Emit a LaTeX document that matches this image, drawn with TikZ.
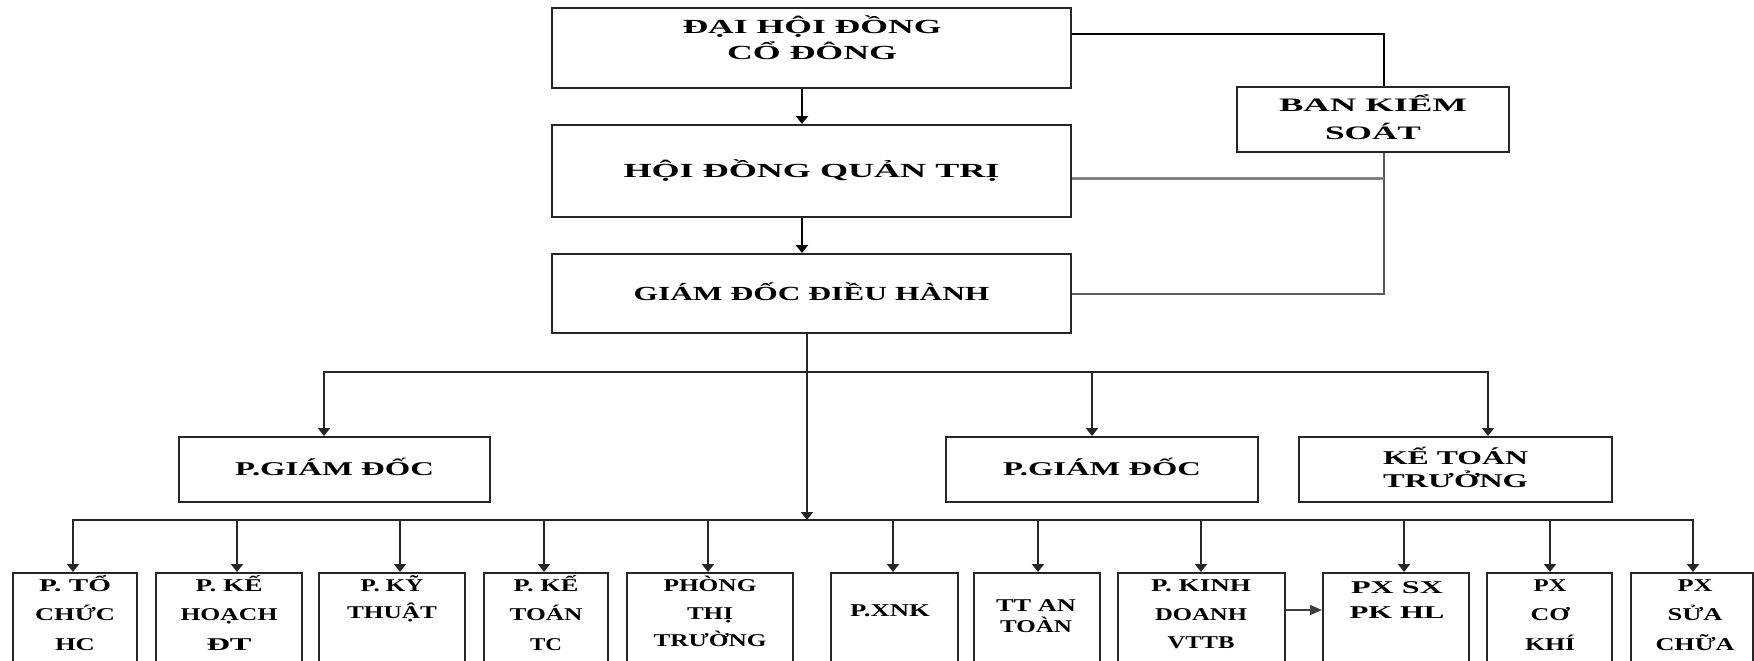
\documentclass[tikz,border=0pt]{standalone}
\usepackage{fontspec}
\setmainfont{Liberation Serif}
\usepackage{graphicx}
\usetikzlibrary{arrows.meta}
\newsavebox\fwbox
\newcommand\fitw[2]{%
  \sbox\fwbox{#2}%
  \edef\fwwd{\the\wd\fwbox}%
  \pgfmathsetmacro\fwx{#1/\fwwd}%
  \rule{0pt}{\fontcharht\font72}%
  \smash{\scalebox{\fwx}[1]{\usebox\fwbox}}}
\newcommand\ff[2]{\bfseries\fontsize{#1}{#2}\selectfont}
\tikzset{
  bx/.style={draw=black!85, line width=2pt, inner sep=0pt, rectangle},
  txt/.style={align=center, inner sep=0pt},
  ln/.style={line width=2.8pt, draw=black!85, line cap=rect},
  arr/.style={line width=2.8pt, draw=black!85, -{Triangle[width=12pt,length=8pt]}},
  rc/.style={line width=2pt, draw=black!65},
}
\begin{document}
\begin{tikzpicture}[x=1pt,y=-1pt]
\useasboundingbox (0,0) rectangle (1754,661);
\clip (0,0) rectangle (1754,661);
% top column
\node[bx, minimum width=519, minimum height=80] (dh) at (811.5,48) {};
\node[txt, font=\ff{20}{26}] (dht) at (812,40) {\fitw{259}{ĐẠI HỘI ĐỒNG}\\\fitw{170}{CỔ ĐÔNG}};
\node[bx, minimum width=519, minimum height=92, font=\ff{20}{26}] (hd) at (811.5,171) {\fitw{376}{HỘI ĐỒNG QUẢN TRỊ}};
\node[bx, minimum width=519, minimum height=79, font=\ff{20}{26}] (gd) at (811.5,293.5) {\fitw{356}{GIÁM ĐỐC ĐIỀU HÀNH}};
\node[bx, minimum width=272, minimum height=65, align=center, font=\ff{19}{28}] (bks) at (1373,119.5) {\fitw{188}{BAN KIỂM}\\\fitw{96}{SOÁT}};
% level 3
\node[bx, minimum width=311, minimum height=65, font=\ff{19.5}{23}] (pg1) at (334.5,469.5) {\fitw{199}{P.GIÁM ĐỐC}};
\node[bx, minimum width=312, minimum height=65, font=\ff{19.5}{23}] (pg2) at (1102,469.5) {\fitw{198}{P.GIÁM ĐỐC}};
\node[bx, minimum width=313, minimum height=65, align=center, font=\ff{19.5}{23}] (ktt) at (1455.5,469.5) {\fitw{145}{KẾ TOÁN}\\\fitw{145}{TRƯỞNG}};
% level 4 boxes
\node[bx, anchor=north, minimum width=124, minimum height=130] (b1) at (75,572) {};
\node[bx, anchor=north, minimum width=146, minimum height=130] (b2) at (229,572) {};
\node[bx, anchor=north, minimum width=146, minimum height=130] (b3) at (392,572) {};
\node[bx, anchor=north, minimum width=124, minimum height=130] (b4) at (546,572) {};
\node[bx, anchor=north, minimum width=166, minimum height=130] (b5) at (710,572) {};
\node[bx, anchor=north, minimum width=127, minimum height=130] (b6) at (894.5,572) {};
\node[bx, anchor=north, minimum width=126, minimum height=130] (b7) at (1037,572) {};
\node[bx, anchor=north, minimum width=167, minimum height=130] (b8) at (1201.5,572) {};
\node[bx, anchor=north, minimum width=146, minimum height=130] (b9) at (1396,572) {};
\node[bx, anchor=north, minimum width=125, minimum height=130] (b10) at (1549.5,572) {};
\node[bx, anchor=north, minimum width=122, minimum height=130] (b11) at (1692,572) {};
% level 4 texts
\node[txt, font=\ff{18}{29.5}] (t1) at (75,615) {\fitw{72}{P. TỔ}\\\fitw{80}{CHỨC}\\\fitw{40}{HC}};
\node[txt, font=\ff{18}{29.5}] (t2) at (229,615) {\fitw{67}{P. KẾ}\\\fitw{97}{HOẠCH}\\\fitw{45}{ĐT}};
\node[txt, font=\ff{18}{27}] (t3) at (392,599.5) {\fitw{63}{P. KỸ}\\\fitw{90}{THUẬT}};
\node[txt, font=\ff{18}{29.5}] (t4) at (546,615) {\fitw{65}{P. KẾ}\\\fitw{73}{TOÁN}\\\fitw{32}{TC}};
\node[txt, font=\ff{18}{27.5}] (t5) at (710,613.5) {\fitw{93}{PHÒNG}\\\fitw{46}{THỊ}\\\fitw{113}{TRƯỜNG}};
\node[txt, font=\ff{18}{27}] (t6) at (890,611) {\fitw{80}{P.XNK}};
\node[txt, font=\ff{18}{21}] (t7) at (1036,616.5) {\fitw{80}{TT AN}\\\fitw{72}{TOÀN}};
\node[txt, font=\ff{18}{28.5}] (t8) at (1201,614.5) {\fitw{100}{P. KINH}\\\fitw{92}{DOANH}\\\fitw{67}{VTTB}};
\node[txt, font=\ff{18}{25}] (t9) at (1397,600.5) {\fitw{92}{PX SX}\\\fitw{95}{PK HL}};
\node[txt, font=\ff{18}{29.5}] (t10) at (1550,615) {\fitw{33}{PX}\\\fitw{39}{CƠ}\\\fitw{50}{KHÍ}};
\node[txt, font=\ff{18}{29.5}] (t11) at (1695,615) {\fitw{35}{PX}\\\fitw{55}{SỬA}\\\fitw{79}{CHỮA}};
% helper coordinates
\coordinate (ax) at (802,0);
\coordinate (vx) at (1384,0);
\coordinate (j1) at (324,372);
\coordinate (j2) at (1092,372);
\coordinate (j3) at (1488,372);
\coordinate (c4) at (807,520);
\coordinate (k1) at (73,520);
\coordinate (k2) at (237,520);
\coordinate (k3) at (400,520);
\coordinate (k4) at (544,520);
\coordinate (k5) at (708,520);
\coordinate (k6) at (893,520);
\coordinate (k7) at (1038,520);
\coordinate (k8) at (1201,520);
\coordinate (k9) at (1404,520);
\coordinate (k10) at (1550,520);
\coordinate (k11) at (1693,520);
\coordinate (kd) at (0,610);
% top arrows
\draw[arr, draw=black] (dh.south -| ax) -- (hd.north -| ax);
\draw[arr, draw=black] (hd.south -| ax) -- (gd.north -| ax);
% control board connectors
\draw[line width=2pt, draw=black] ([yshift=14pt]dh.east) -| (bks.north -| vx);
\draw[rc] (bks.south -| vx) |- (gd.east);
\draw[line width=3pt, draw=black!50] ([yshift=-7pt]hd.east) -- ([yshift=-7pt]hd.east -| vx);
% level 3
\draw[ln] (j1) -- (j3);
\draw[arr] (j1) -- (j1 |- pg1.north);
\draw[arr] (j2) -- (j2 |- pg2.north);
\draw[arr] (j3) -- (j3 |- ktt.north);
\draw[arr] (gd.south -| c4) -- (c4);
% level 4
\draw[ln] (k1) -- (k11);
\draw[arr] (k1) -- (k1 |- b1.north);
\draw[arr] (k2) -- (k2 |- b2.north);
\draw[arr] (k3) -- (k3 |- b3.north);
\draw[arr] (k4) -- (k4 |- b4.north);
\draw[arr] (k5) -- (k5 |- b5.north);
\draw[arr] (k6) -- (k6 |- b6.north);
\draw[arr] (k7) -- (k7 |- b7.north);
\draw[arr] (k8) -- (k8 |- b8.north);
\draw[arr] (k9) -- (k9 |- b9.north);
\draw[arr] (k10) -- (k10 |- b10.north);
\draw[arr] (k11) -- (k11 |- b11.north);
\draw[line width=1.6pt, draw=black!75, -{Triangle[width=10pt,length=12pt]}] (b8.east |- kd) -- (b9.west |- kd);
\end{tikzpicture}
\end{document}
